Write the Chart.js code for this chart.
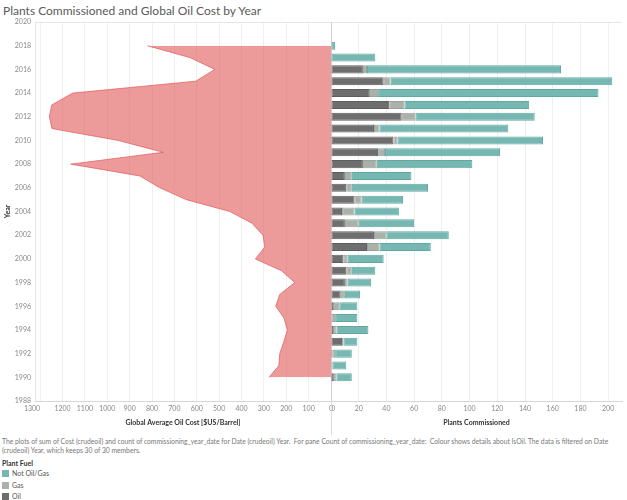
<!DOCTYPE html>
<html>
<head>
<meta charset="utf-8">
<title>Plants Commissioned and Global Oil Cost by Year</title>
<script src="https://cdn.jsdelivr.net/npm/chart.js@4.4.0/dist/chart.umd.min.js"></script>
<style>
body{margin:0;background:#fff;font-family:Lato,sans-serif;}
#wrap{position:relative;width:627px;height:500px;overflow:hidden;}
#title{position:absolute;left:3px;top:3px;font-size:12px;color:#5a5a5a;white-space:nowrap;}
#costChart{position:absolute;left:0;top:0;}
#plantChart{position:absolute;left:327px;top:0;}
#sep{position:absolute;left:331px;top:401px;width:1px;height:34px;background:#ddd;}
#caption{position:absolute;left:2px;top:437px;font-size:6.75px;line-height:9px;color:#777;white-space:nowrap;}
#legend{position:absolute;left:2px;top:459px;font-size:7px;color:#555;}
#legend .head{color:#333;font-weight:bold;height:9px;line-height:9px;}
#legend .item{position:relative;height:11.5px;line-height:11.5px;padding-left:10px;}
#legend .sw{position:absolute;left:0;top:2px;width:7px;height:7px;}
</style>
</head>
<body>
<div id="wrap">
  <div id="title">Plants Commissioned and Global Oil Cost by Year</div>
  <canvas id="costChart" width="336" height="436"></canvas>
  <canvas id="plantChart" width="300" height="436"></canvas>
  <div id="sep"></div>
  <div id="caption">The plots of sum of Cost (crudeoil) and count of commissioning_year_date for Date (crudeoil) Year.&nbsp; For pane Count of commissioning_year_date:&nbsp; Colour shows details about IsOil. The data is filtered on Date<br>(crudeoil) Year, which keeps 30 of 30 members.</div>
  <div id="legend">
    <div class="head">Plant Fuel</div>
    <div class="item"><span class="sw" style="background:#76b7b2"></span>Not Oil/Gas</div>
    <div class="item"><span class="sw" style="background:#aab1aa"></span>Gas</div>
    <div class="item"><span class="sw" style="background:#6e6e6e"></span>Oil</div>
  </div>
</div>
<script>
// data, 1990 -> 2018
var years = [1990,1991,1992,1993,1994,1995,1996,1997,1998,1999,2000,2001,2002,2003,2004,
             2005,2006,2007,2008,2009,2010,2011,2012,2013,2014,2015,2016,2017,2018];
var oilCost = [277,233,229,211,195,210,247,229,162,221,338,296,304,353,452,
               646,765,854,1163,750,951,1247,1259,1248,1154,605,519,631,821];
var oilPlants = [2,0,1,8,2,0,2,7,10,11,9,26,31,10,8,
                 17,11,10,23,34,45,31,51,42,28,38,23,0,0];
var gasPlants = [2,1,2,1,2,3,4,3,2,4,3,9,9,10,9,
                 5,4,5,10,5,3,4,10,11,6,5,3,0,0];
var otherPlants = [11,10,12,10,23,16,13,11,17,17,26,37,45,40,32,
                   30,55,43,69,83,105,93,86,90,159,160,140,32,3];
var yearTicks = {min: 1988, max: 2020, step: 2};

Chart.defaults.font.family = 'Lato, sans-serif';
Chart.defaults.animation = false;

function pts(vals) {
  return years.map(function(y, i){ return {x: vals[i], y: y}; });
}
function addEdgeTick(axis) { axis.ticks.push({value: axis.max}); }
function tickLabel(value, index, ticks) { return index === ticks.length - 1 ? '' : String(value); }
function gridCol(ctx) {
  return (ctx.tick && ctx.tick.value === ctx.scale.max) ? 'rgba(0,0,0,0)' : '#efefef';
}
function topLine(ctx) {
  return (ctx.tick && ctx.tick.value === yearTicks.max) ? '#e6e6e6' : 'rgba(0,0,0,0)';
}
var tickFont = {size: 7};

new Chart(document.getElementById('costChart'), {
  type: 'line',
  data: {
    datasets: [{
      data: pts(oilCost),
      fill: 'origin',
      backgroundColor: 'rgba(225,87,89,0.6)',
      borderColor: 'rgba(225,87,89,0.7)',
      borderWidth: 1,
      pointRadius: 0,
      tension: 0
    }]
  },
  options: {
    responsive: false,
    indexAxis: 'y',
    layout: {padding: {top: 22, right: 5, left: 0, bottom: 0}},
    plugins: {legend: {display: false}, tooltip: {enabled: false}},
    scales: {
      x: {
        type: 'linear', reverse: true, min: 0, max: 1323,
        afterBuildTicks: addEdgeTick,
        afterFit: function(axis){ axis.height = 35; },
        ticks: {stepSize: 100, includeBounds: false, align: 'inner', autoSkip: false, maxRotation: 0,
                font: tickFont, color: '#888', padding: 4, callback: tickLabel},
        grid: {color: gridCol, drawTicks: false},
        border: {color: '#d6d6d6'},
        title: {display: true, text: 'Global Average Oil Cost [$US/Barrel]', color: '#333',
                font: {size: 7, weight: 'bold'}, padding: {top: 0, bottom: 9}}
      },
      y: {
        type: 'linear', min: yearTicks.min, max: yearTicks.max,
        afterFit: function(axis){ axis.width = 35; },
        ticks: {stepSize: yearTicks.step, font: tickFont, color: '#888', padding: 4,
                callback: function(v){ return String(v); }},
        grid: {color: topLine, drawTicks: false},
        border: {color: '#e6e6e6'},
        title: {display: true, text: 'Year', color: '#333', font: {size: 7, weight: 'bold'}, padding: 4}
      }
    }
  }
});

new Chart(document.getElementById('plantChart'), {
  type: 'bar',
  data: {
    datasets: [
      {label: 'Oil', data: pts(oilPlants), backgroundColor: '#6e6e6e', borderColor: '#5e5e5e'},
      {label: 'Gas', data: pts(gasPlants), backgroundColor: '#aab1aa', borderColor: '#9aa39b'},
      {label: 'Not Oil/Gas', data: pts(otherPlants), backgroundColor: '#76b7b2', borderColor: '#5fa9a3'}
    ]
  },
  options: {
    responsive: false,
    indexAxis: 'y',
    layout: {padding: {top: 22, right: 5, left: 4, bottom: 0}},
    datasets: {bar: {borderWidth: 1, borderSkipped: false, barPercentage: 0.85, categoryPercentage: 0.8}},
    plugins: {legend: {display: false}, tooltip: {enabled: false}},
    scales: {
      x: {
        type: 'linear', stacked: true, min: 0, max: 210,
        afterBuildTicks: addEdgeTick,
        afterFit: function(axis){ axis.height = 35; },
        ticks: {stepSize: 20, includeBounds: false, align: 'inner', autoSkip: false, maxRotation: 0,
                font: tickFont, color: '#888', padding: 4, callback: tickLabel},
        grid: {color: gridCol, drawTicks: false},
        border: {color: '#d6d6d6'},
        title: {display: true, text: 'Plants Commissioned', color: '#333',
                font: {size: 7, weight: 'bold'}, padding: {top: 0, bottom: 9}}
      },
      y: {
        type: 'linear', stacked: true, offset: false, min: yearTicks.min, max: yearTicks.max,
        afterFit: function(axis){ axis.width = 0; },
        ticks: {stepSize: yearTicks.step, display: false},
        grid: {color: topLine, drawTicks: false, offset: false},
        border: {color: '#d0d0d0'}
      }
    }
  }
});
</script>
</body>
</html>
